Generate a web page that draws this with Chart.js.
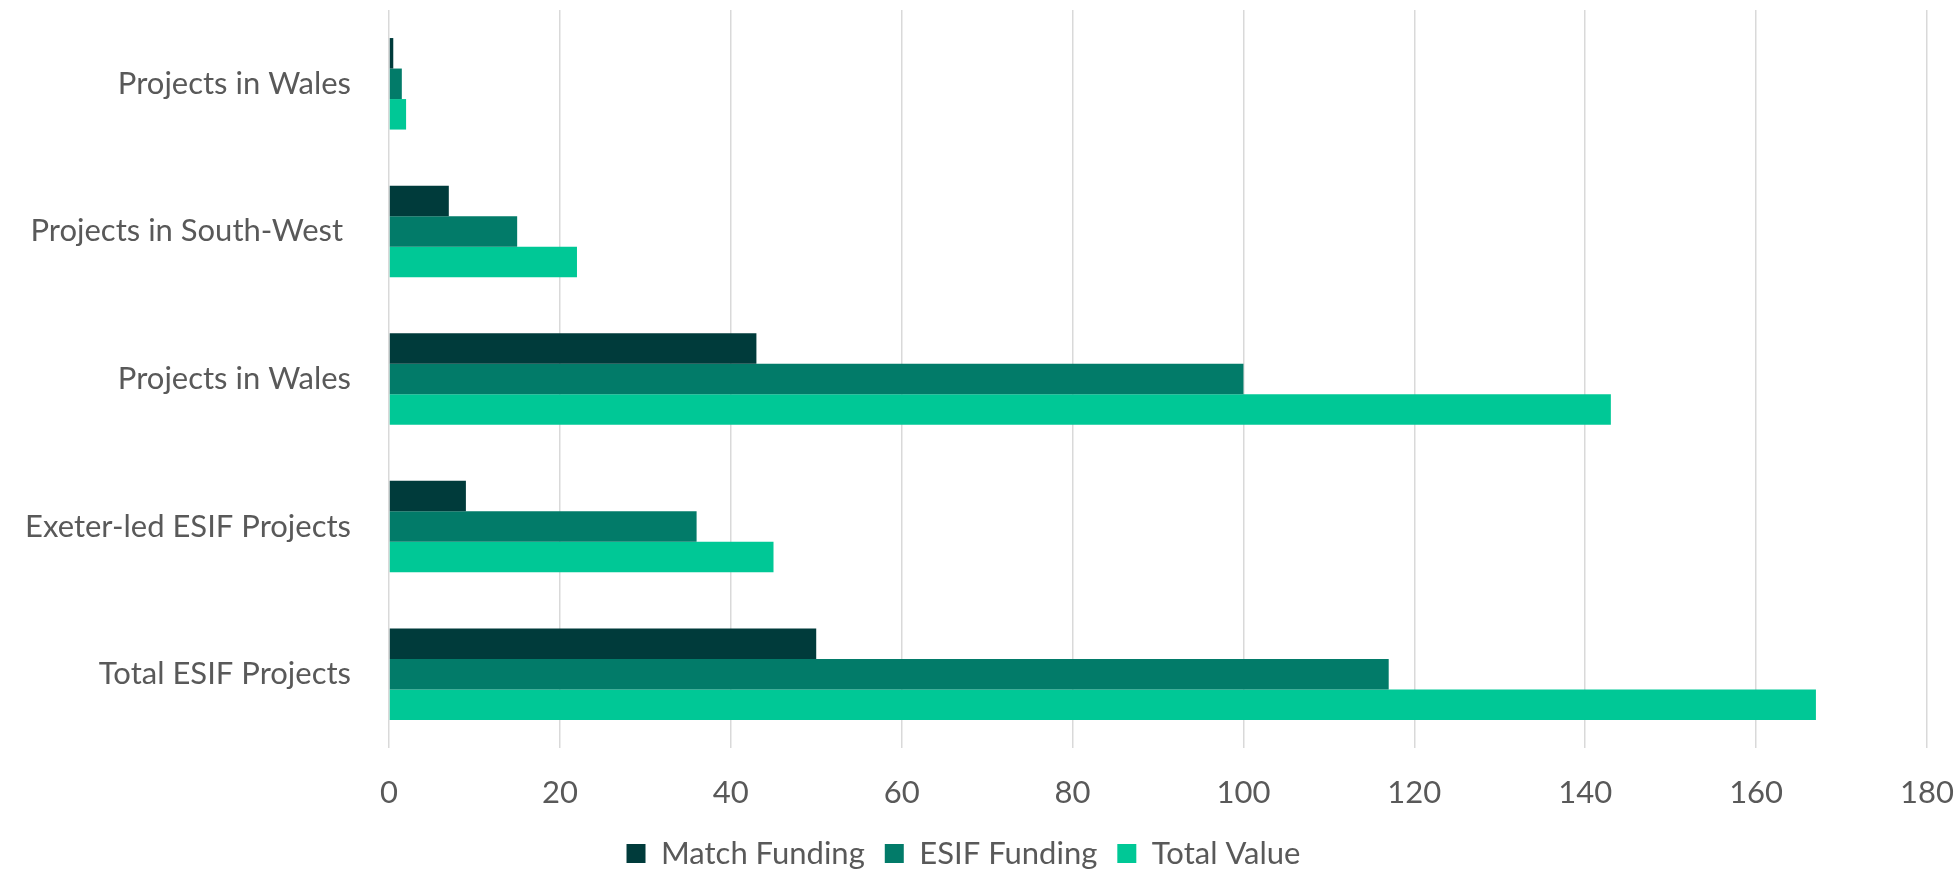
<!DOCTYPE html>
<html>
<head>
<meta charset="utf-8">
<script src="https://cdn.jsdelivr.net/npm/chart.js@4/dist/chart.umd.min.js"></script>
<style>
  html, body { margin: 0; padding: 0; background: #fff; }
  #wrap { width: 1959px; height: 873px; }
</style>
</head>
<body>
<div id="wrap"><canvas id="chart"></canvas></div>
<script>
const categories = ['Projects in Wales', 'Projects in South-West ', 'Projects in Wales', 'Exeter-led ESIF Projects', 'Total ESIF Projects'];
const matchFunding = [0.5, 7, 43, 9, 50];
const esifFunding = [1.5, 15, 100, 36, 117];
const totalValue = [2, 22, 143, 45, 167];
const xTicks = [0, 20, 40, 60, 80, 100, 120, 140, 160, 180];

const textColor = '#595959';
const fontFamily = 'Lato, "Noto Sans", sans-serif';

Chart.defaults.font.family = fontFamily;
Chart.defaults.color = textColor;

new Chart(document.getElementById('chart'), {
    type: 'bar',
    data: {
        labels: categories,
        datasets: [
            { label: 'Match Funding', data: matchFunding, backgroundColor: '#003b3b' },
            { label: 'ESIF Funding', data: esifFunding, backgroundColor: '#027b69' },
            { label: 'Total Value', data: totalValue, backgroundColor: '#00c896' }
        ]
    },
    options: {
        indexAxis: 'y',
        responsive: true,
        maintainAspectRatio: false,
        animation: false,
        datasets: {
            bar: { categoryPercentage: 0.62, barPercentage: 1.0, borderWidth: 0 }
        },
        layout: { padding: { top: 10, right: 32, left: 0, bottom: -6 } },
        plugins: {
            tooltip: { enabled: false },
            legend: {
                position: 'bottom',
                labels: {
                    boxWidth: 19,
                    boxHeight: 19,
                    padding: 20,
                    color: textColor,
                    font: { size: 31 }
                }
            }
        },
        scales: {
            x: {
                min: 0,
                max: 180,
                afterBuildTicks: (scale) => {
                    scale.ticks = xTicks.map(v => ({ value: v }));
                },
                afterFit: (scale) => {
                    scale.height = 70;
                    scale.paddingLeft = 0;
                    scale.paddingRight = 0;
                },
                grid: { color: '#d9d9d9', lineWidth: 1.5, drawTicks: false },
                border: { display: false },
                ticks: { padding: 26, color: textColor, font: { size: 31 } }
            },
            y: {
                afterFit: (scale) => {
                    scale.width = 389;
                    scale.paddingTop = 0;
                    scale.paddingBottom = 0;
                },
                grid: { display: false },
                border: { display: false },
                ticks: { padding: 30, color: textColor, font: { size: 31 } }
            }
        }
    }
});
</script>
</body>
</html>
